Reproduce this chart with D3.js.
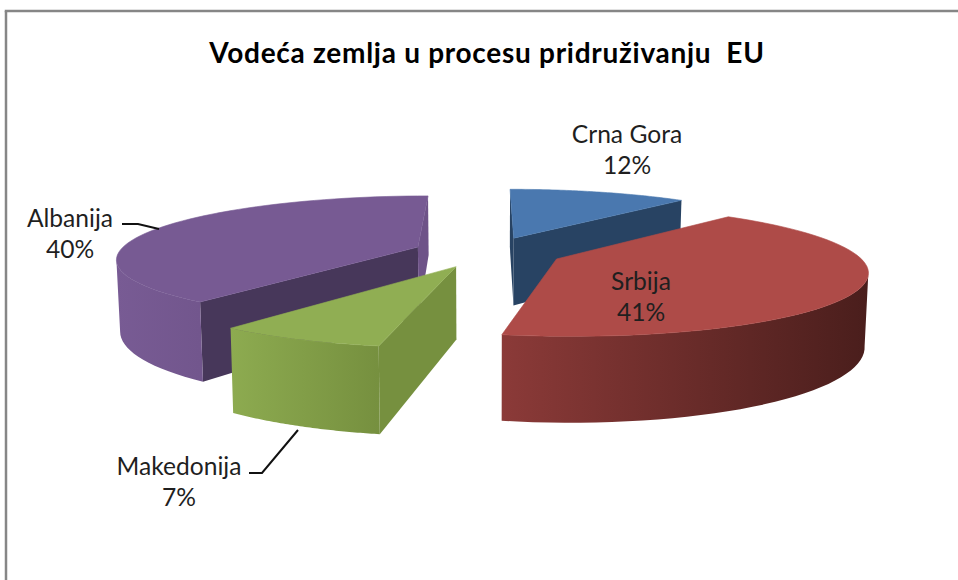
<!DOCTYPE html>
<html><head><meta charset="utf-8">
<script src="https://cdn.jsdelivr.net/npm/d3@7/dist/d3.min.js"></script>
<style>html,body{margin:0;padding:0;background:#fff}svg{display:block}text{font-family:Lato,"Open Sans",sans-serif;fill:#1f1f1f}</style>
</head><body><div id="chart"></div>
<script>
const categories = ["Crna Gora","Srbija","Makedonija","Albanija"];
const values = [11.6,41.4,7.4,39.6];
const topColors = ["#4A78AF","#AE4B48","#90AE53","#775A93"];
const startWall = ["#284363","#4F211F","#76903F","#47375A"];
const endWall = ["#284363","#4F211F","#76903F","#6E5388"];
const rimFrom = ["#2F5078","#8B3A38","#8DAB50","#785B94"];
const rimTo = ["#274362","#4A1E1C","#76903F","#72568D"];
const title = "Vodeća zemlja u procesu pridruživanju  EU";

const W=958,H=580;
const svg=d3.select("#chart").append("svg").attr("width",W).attr("height",H);
const defs=svg.append("defs");

svg.append("line").attr("x1",4.75).attr("x2",W).attr("y1",11).attr("y2",11).attr("stroke","#868686").attr("stroke-width",2.5);
svg.append("line").attr("x1",6).attr("x2",6).attr("y1",11).attr("y2",H).attr("stroke","#868686").attr("stroke-width",2.5);

svg.append("text").attr("x",487).attr("y",63).attr("text-anchor","middle")
  .style("font-size","28px").style("font-weight",700).style("fill","#000")
  .style("letter-spacing","0.72px").style("white-space","pre").text(title);

const cx=488,cy=252,R=299,explode=75,D=1750,horizon=360,depth=70;
const pie=d3.pie().sort(null).value(d=>d)(values);
function project(X,Y,bottom){
  const s=1/(1+Y/D);
  return [cx+X*s*(bottom?0.99:1), cy+horizon*(s-1)+(bottom?depth*s:0)];
}
const line=d3.line();
const order=[0,3,1,2];
order.forEach(i=>{
  const a=pie[i];
  const mid=(a.startAngle+a.endAngle)/2;
  const ox=explode*Math.sin(mid), oy=explode*Math.cos(mid);
  const at=(t,r,b)=>project(ox+r*Math.sin(t),oy+r*Math.cos(t),b);
  const angles=d3.range(0,61).map(k=>a.startAngle+(a.endAngle-a.startAngle)*k/60);
  const g=svg.append("g");
  [[a.startAngle,1,startWall[i]],[a.endAngle,-1,endWall[i]]].forEach(([t,sign,col])=>{
    const p=[at(t,0,false),at(t,R,false),at(t,R,true),at(t,0,true)];
    if(d3.polygonArea(p)*sign>0) g.append("path").attr("d",line(p)+"Z").attr("fill",col);
  });
  const id="rim"+i;
  const front=d3.pairs(angles).filter(([t0,t1])=>at(t1,R,false)[0]<at(t0,R,false)[0]);
  if(front.length){
    const xs=front.flatMap(([u,v])=>[at(u,R,false)[0],at(v,R,false)[0]]);
    const [x0,x1]=d3.extent(xs);
    const gr=defs.append("linearGradient").attr("id",id).attr("gradientUnits","userSpaceOnUse")
      .attr("x1",x0).attr("x2",x1).attr("y1",0).attr("y2",0);
    gr.append("stop").attr("offset",0).attr("stop-color",rimFrom[i]);
    gr.append("stop").attr("offset",1).attr("stop-color",rimTo[i]);
    const ts=[front[0][0],...front.map(f=>f[1])];
    const p=[...ts.map(t=>at(t,R,false)),...ts.slice().reverse().map(t=>at(t,R,true))];
    g.append("path").attr("d",line(p)+"Z").attr("fill",`url(#${id})`);
  }
  const topFace=[at(a.startAngle,0,false),...angles.map(t=>at(t,R,false))];
  g.append("path").attr("d",line(topFace)+"Z").attr("fill",topColors[i])
    .attr("stroke",topColors[i]).attr("stroke-width",0.6);
});

const labelPos=[[627,143],[641,290],[179,475],[70,227]];
const lbl=svg.append("g");
categories.forEach((c,i)=>{
  const t=lbl.append("text").attr("text-anchor","middle").style("font-size","24.6px");
  t.append("tspan").attr("x",labelPos[i][0]).attr("y",labelPos[i][1]).text(c);
  t.append("tspan").attr("x",labelPos[i][0]).attr("y",labelPos[i][1]+31).text(Math.round(values[i])+"%");
});
const leaders=[[[122,224],[138,224],[159,229]],[[249,473],[262,473],[298,430]]];
leaders.forEach(l=>svg.append("path").attr("d",line(l)).attr("fill","none").attr("stroke","#111").attr("stroke-width",2));
</script></body></html>
